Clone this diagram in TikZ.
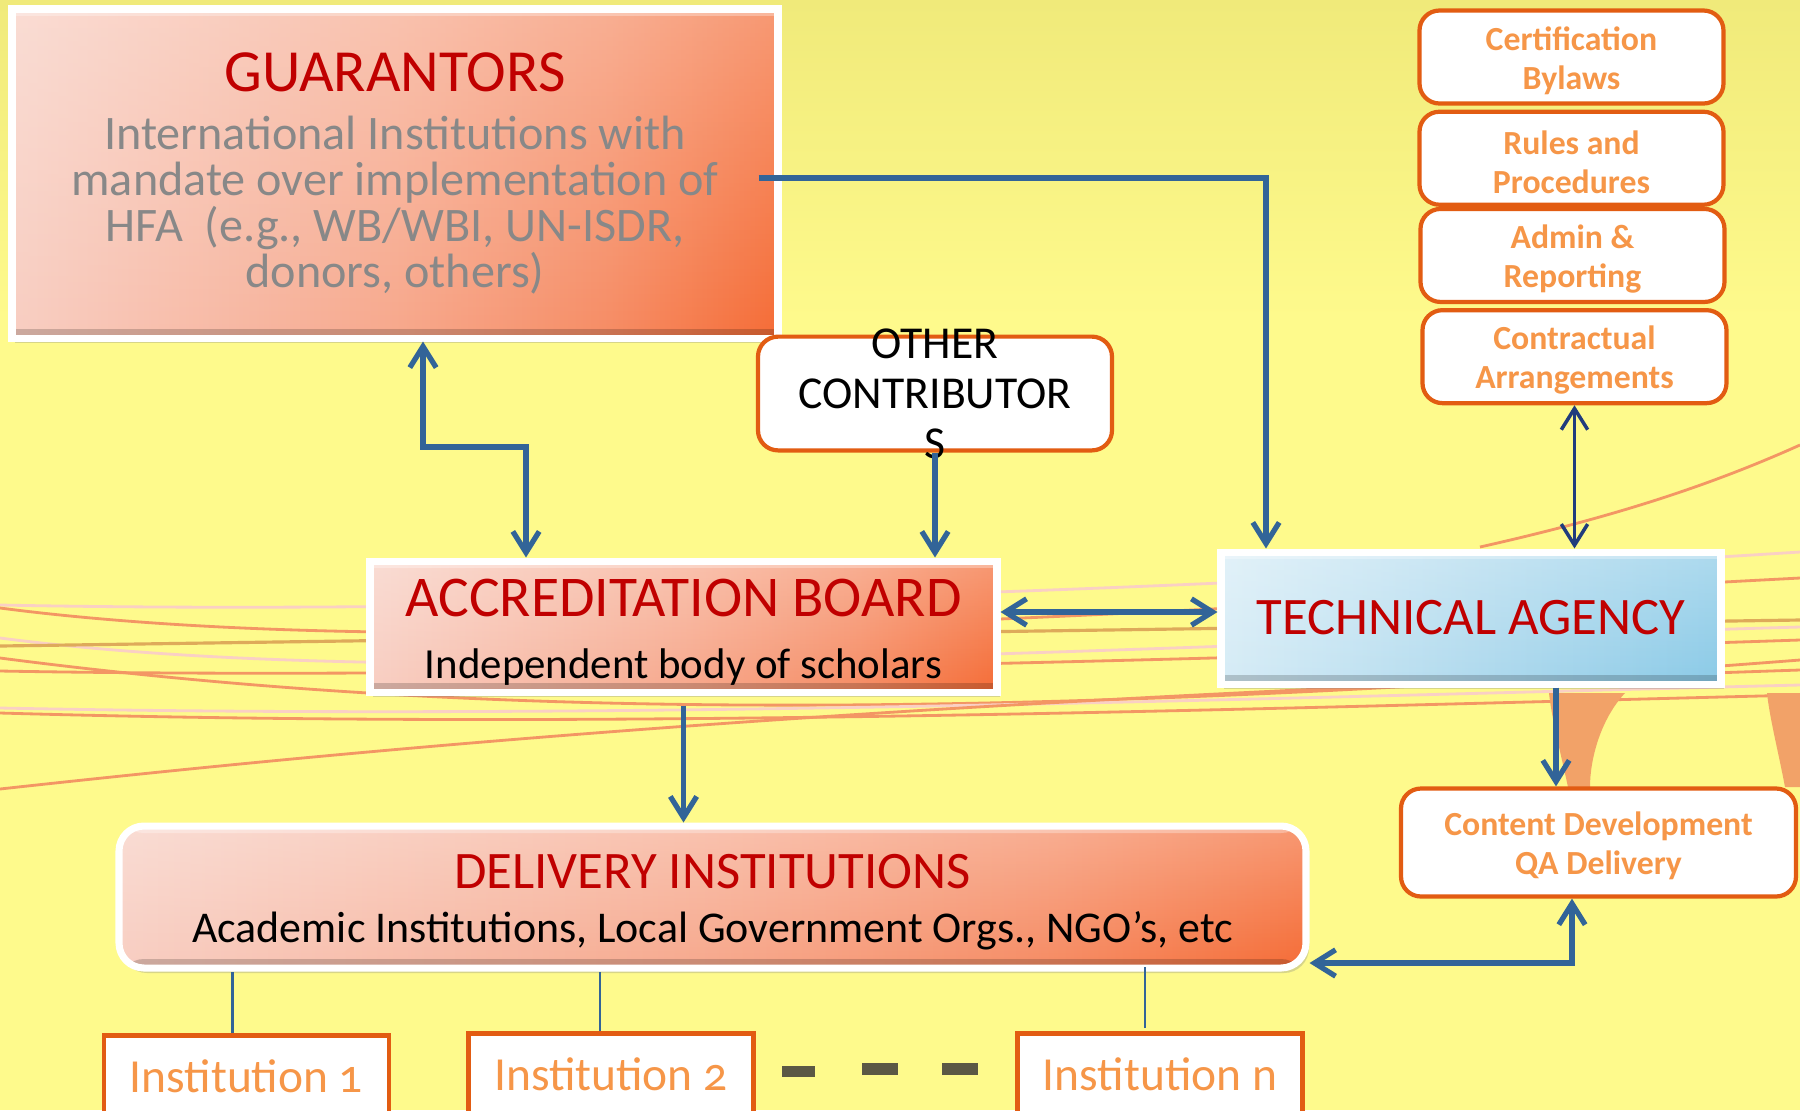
\documentclass[tikz,border=0pt]{standalone}
\usepackage{fontspec}
\setmainfont{Carlito}
\newfontfamily\oldnums{Carlito}[Numbers=OldStyle]
\usetikzlibrary{arrows.meta, positioning, shadows, calc, fadings}
\definecolor{bgYellow}{RGB}{254, 250, 140}
\definecolor{topYellow}{RGB}{240, 234, 122}
\definecolor{boxLight}{RGB}{248, 206, 194}
\definecolor{boxMid}{RGB}{247, 168, 140}
\definecolor{boxMidDark}{RGB}{246, 140, 100}
\definecolor{boxDark}{RGB}{245, 108, 54}
\definecolor{titleRed}{RGB}{192, 0, 0}
\definecolor{greyText}{RGB}{136, 136, 136}
\definecolor{techLight}{RGB}{214, 236, 246}
\definecolor{techMid}{RGB}{176, 218, 238}
\definecolor{techDark}{RGB}{138, 202, 231}
\definecolor{wireBlue}{RGB}{50, 100, 152}
\definecolor{wireNavy}{RGB}{32, 60, 125}
\definecolor{borderOrange}{RGB}{226, 92, 18}
\definecolor{noteOrange}{RGB}{246, 150, 72}
\definecolor{dashGrey}{RGB}{91, 88, 68}
\definecolor{lineOrange}{RGB}{243, 150, 100}
\definecolor{linePink}{RGB}{250, 208, 196}
\definecolor{lineTan}{RGB}{222, 170, 90}
\definecolor{blobOrange}{RGB}{242, 162, 104}
\newcommand\tightlines{\lineskiplimit=-\maxdimen\relax}
\newcommand\lift[1]{\rule{0pt}{#1}}
\pgfdeclarehorizontalshading{salmonfade}{100bp}{color(0bp)=(boxLight); color(25bp)=(boxLight);
    color(50bp)=(boxMid); color(64bp)=(boxMidDark); color(75bp)=(boxDark); color(100bp)=(boxDark)}
\pgfdeclarehorizontalshading{skyfade}{100bp}{color(0bp)=(techLight); color(25bp)=(techLight);
    color(50bp)=(techMid); color(75bp)=(techDark); color(100bp)=(techDark)}

\begin{document}
\begin{tikzpicture}[>={Straight Barb[length=6pt, width=7.5pt]}]

% Style definitions
\tikzset{
    base/.style={
        rectangle, align=center, inner sep=0pt
    },
    bevel/.style={
        path picture={
            \fill[white, fill opacity=0.3, path fading=south] (path picture bounding box.north west) rectangle (path picture bounding box.south east);
            \fill[black, opacity=0.18] ([yshift=0.09cm]path picture bounding box.south west) rectangle (path picture bounding box.south east);
            \fill[white, opacity=0.3] (path picture bounding box.north west) rectangle ([yshift=-0.07cm]path picture bounding box.north east);
        }
    },
    orangebox/.style={
        base, bevel, draw=white, line width=2pt, shading=salmonfade,
        drop shadow={opacity=0.3, shadow xshift=0.03cm, shadow yshift=-0.05cm}
    },
    techbox/.style={
        base, bevel, draw=white, line width=2pt, shading=skyfade,
        drop shadow={opacity=0.3, shadow xshift=0.03cm, shadow yshift=-0.05cm}
    },
    notebox/.style={
        base, draw=borderOrange, fill=white, line width=1.2pt, rounded corners=0.2cm,
        text=noteOrange, font=\fontsize{9.6}{11.1}\selectfont\bfseries\tightlines,
        minimum width=3.04cm, minimum height=0.93cm
    },
    instbox/.style={
        base, draw=borderOrange, fill=white, line width=1.3pt, anchor=north,
        text=noteOrange, font=\fontsize{13.5}{16}\selectfont\oldnums,
        minimum width=2.85cm, minimum height=0.82cm
    },
    wire/.style={draw=wireBlue, line width=1.5pt, line join=miter, ->},
    wiretwo/.style={wire, <->},
    navywire/.style={draw=wireNavy, line width=1pt, <->},
    tie/.style={draw=wireBlue, line width=0.7pt},
    bgline/.style={draw=lineOrange, line width=0.8pt},
    bgpale/.style={draw=linePink, line width=0.8pt}
}

% Background
\fill[bgYellow] (0,0) rectangle (18,-11.1);
\shade[top color=topYellow, bottom color=bgYellow] (0,0) rectangle (18,-3.2);
\useasboundingbox (0,0) rectangle (18,-11.1);

% Decorative lines
\draw[bgpale] (0,-6.05) .. controls (5,-6.15) and (12,-5.9) .. (18,-5.52);
\draw[bgline] (0,-6.08) .. controls (4,-6.6) and (10,-6.2) .. (18,-5.78);
\draw[bgpale] (0,-6.38) .. controls (4,-6.9) and (10,-6.5) .. (18,-6.27);
\draw[lineTan, line width=0.9pt] (0,-6.46) -- (18,-6.2);
\draw[bgline] (0,-6.58) .. controls (4,-7.1) and (9,-7.3) .. (18,-6.6);
\draw[bgline] (0,-6.71) .. controls (5,-6.8) and (12,-6.6) .. (18,-6.4);
\draw[bgpale] (0,-7.08) .. controls (6,-7.2) and (12,-7.0) .. (18,-6.85);
\draw[bgline] (0,-7.13) .. controls (6,-7.3) and (12,-7.1) .. (18,-6.95);
\draw[bgline] (0,-7.89) .. controls (4,-7.45) and (9,-7.0) .. (18,-6.7);
\draw[bgline] (14.8,-5.47) .. controls (16,-5.2) and (17,-4.9) .. (18,-4.45);
\fill[blobOrange] (15.49,-6.93) -- (16.25,-6.93) .. controls (16.0,-7.2) and (15.9,-7.6) .. (15.9,-7.87)
    -- (15.68,-7.87) .. controls (15.6,-7.5) and (15.52,-7.2) .. cycle;
\fill[blobOrange] (17.67,-6.93) -- (18,-6.93) -- (18,-7.87) -- (17.85,-7.87) .. controls (17.78,-7.5) and (17.7,-7.2) .. cycle;

% Guarantors
\node (guar) [orangebox, minimum width=7.66cm, minimum height=3.29cm, text=greyText,
    font=\fontsize{13.7}{13.1}\selectfont\tightlines] at (3.95,-1.735) {
    {\color{titleRed}\fontsize{17}{17}\selectfont GUARANTORS}\\[3.6pt]
    International Institutions with\\
    mandate over implementation of\\
    HFA\ \ (e.g., WB/WBI, UN-ISDR,\\
    donors, others)
};

% Other contributors
\node (other) [base, draw=borderOrange, fill=white, line width=1.2pt, rounded corners=0.2cm,
    minimum width=3.54cm, inner ysep=-0.08cm,
    font=\fontsize{13}{14.2}\selectfont\tightlines] at (9.35,-3.935) {
    OTHER\\CONTRIBUTOR\\S
};

% Accreditation board
\node (accr) [orangebox, minimum width=6.27cm, minimum height=1.31cm,
    font=\fontsize{12.2}{17.6}\selectfont\tightlines] at (6.835,-6.265) {
    {\color{titleRed}\fontsize{16.4}{16.4}\selectfont\lift{13.8pt}ACCREDITATION BOARD}\\
    Independent body of scholars
};

% Technical agency
\node (tech) [techbox, minimum width=5.0cm, minimum height=1.32cm, text=titleRed,
    font=\fontsize{15}{18}\selectfont] at (14.71,-6.18) {TECHNICAL AGENCY};

% Right stack
\node (cert) [notebox] at (15.715,-0.57) {\lift{8.8pt}Certification\\Bylaws};
\node (rules) [notebox, below=0.04cm of cert] {\lift{8.8pt}Rules and\\Procedures};
\node (admin) [notebox, below=0cm of rules, xshift=0.01cm] {\lift{8.8pt}Admin \&\\Reporting};
\node (contract) [notebox, below=0.04cm of admin, xshift=0.02cm] {\lift{8.8pt}Contractual\\Arrangements};

% Content development
\node (content) [notebox, minimum width=3.95cm, minimum height=1.08cm] at (15.985,-8.425) {
    \lift{8.8pt}Content Development\\QA Delivery
};

% Delivery institutions
\node (deliv) [orangebox, rounded corners=0.25cm, minimum width=11.87cm, minimum height=1.42cm,
    font=\fontsize{12.5}{15.3}\selectfont\tightlines] at (7.125,-8.97) {
    {\color{titleRed}\fontsize{15}{15}\selectfont\lift{12.5pt}DELIVERY INSTITUTIONS}\\
    Academic Institutions, Local Government Orgs., NGO’s, etc
};

% Institutions
\node (inst1) [instbox] at (2.465,-10.33) {Institution 1};
\node (inst2) [instbox] at (6.11,-10.31) {Institution 2};
\node (instn) [instbox] at (11.6,-10.31) {Institution n};

\fill[dashGrey] (7.82,-10.66) rectangle (8.15,-10.77);
\fill[dashGrey] (8.62,-10.63) rectangle (8.98,-10.75);
\fill[dashGrey] (9.42,-10.63) rectangle (9.78,-10.75);

% Connections
\coordinate (guar_bend) at (4.75,-4.47);
\draw [wiretwo] ([xshift=0.28cm]guar.south) |- (guar_bend) -| ([xshift=-1.575cm]accr.north);
\draw [wire] (other.south) -- (other.south |- accr.north);
\draw [wire] ([xshift=-0.23cm, yshift=-0.045cm]guar.east) -| ([xshift=-2.05cm]tech.north);
\draw [wiretwo] ([yshift=0.145cm]accr.east) -- ([yshift=0.145cm]accr.east -| tech.west);
\draw [navywire] (contract.south) -- (contract.south |- tech.north);

\coordinate (ta_down) at ([xshift=-0.425cm]content.north);
\draw [wire] (ta_down |- tech.south) -- (ta_down);
\draw [wire, shorten <=0.1cm] (accr.south) -- (accr.south |- deliv.north);
\draw [wiretwo] ([yshift=-0.66cm]deliv.east) -| ([xshift=-0.265cm]content.south);

% Ties to institutions
\draw [tie] ([xshift=-0.14cm]inst1.north) -- ([xshift=-0.14cm]inst1.north |- deliv.south);
\draw [tie] ([xshift=-0.11cm]inst2.north) -- ([xshift=-0.11cm]inst2.north |- deliv.south);
\draw [tie] ([xshift=-0.15cm, yshift=0.03cm]instn.north) -- ([xshift=-0.15cm, yshift=0.05cm]instn.north |- deliv.south);

\end{tikzpicture}
\end{document}
